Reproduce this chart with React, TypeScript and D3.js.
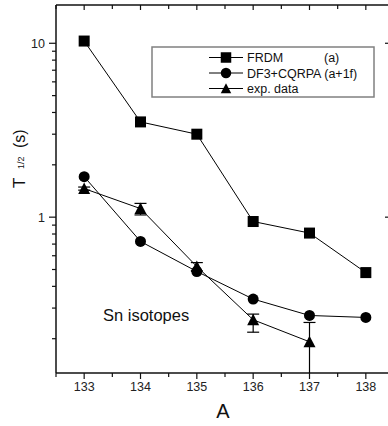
import React from 'react';
import * as d3 from 'd3';

// mass numbers of the Sn isotopes
const massNumbers = [133, 134, 135, 136, 137, 138];
// half-lives (s)
const frdm = [10.3, 3.53, 3.0, 0.944, 0.81, 0.48];
const df3 = [1.71, 0.725, 0.487, 0.338, 0.272, 0.265];
const expMass = [133, 134, 135, 136, 137];
const expData = [1.46, 1.12, 0.52, 0.257, 0.192];
const expErrUp = [0.03, 0.08, 0.028, 0.02, 0.056];
const expErrDown = [0.03, 0.09, 0.028, 0.039, 0.08];

const xMajor = [133, 134, 135, 136, 137, 138];
const xMinor = [132.5, 133.5, 134.5, 135.5, 136.5, 137.5];
const yMajor = [1, 10];
const yMajorLabels = ['1', '10'];
const yMinor = [0.2, 0.3, 0.4, 0.5, 0.6, 0.7, 0.8, 0.9, 2, 3, 4, 5, 6, 7, 8, 9];
const legendLabels = ['FRDM', 'DF3+CQRPA (a+1f)', 'exp. data'];

const W = 388;
const H = 426;
const left = 56, right = 392, top = 5, bottom = 373;
const font = 'Liberation Sans, Arial, sans-serif';

const x = d3.scaleLinear().domain([132.5, 138.5]).range([left, 394]);
const y = d3.scaleLog().domain([0.127, 16.6]).range([bottom, top]);

const Square = ({cx, cy, s = 11}: any) => (
  <rect x={cx - s / 2} y={cy - s / 2} width={s} height={s} fill="#000" />
);
const Circle = ({cx, cy, s = 11}: any) => <circle cx={cx} cy={cy} r={s / 2} fill="#000" />;
const Tri = ({cx, cy, s = 12}: any) => (
  <path d={`M${cx},${cy - s / 2}L${cx + s / 2},${cy + s / 2 - 0.5}L${cx - s / 2},${cy + s / 2 - 0.5}Z`} fill="#000" />
);

export default function App() {
  const line = d3.line<[number, number]>().x(d => x(d[0])).y(d => y(d[1]));
  const frdmPts = massNumbers.map((m, i) => [m, frdm[i]] as [number, number]);
  const df3Pts = massNumbers.map((m, i) => [m, df3[i]] as [number, number]);
  const expPts = expMass.map((m, i) => [m, expData[i]] as [number, number]);
  const legendMarkers = [Square, Circle, Tri];

  return (
    <svg width={W} height={H} style={{position: 'absolute', left: 0, top: 0, background: '#fff'}}
      fontFamily={font}>
      <rect width={W} height={H} fill="#fff" />
      <defs>
        <clipPath id="plotClip">
          <rect x={left} y={top} width={right - left} height={bottom - top} />
        </clipPath>
      </defs>
      {/* axes frame */}
      <g stroke="#111" strokeWidth={1.5} fill="none">
        <line x1={left} x2={left} y1={top} y2={bottom} />
        <line x1={left} x2={right} y1={bottom} y2={bottom} />
        <line x1={left} x2={right} y1={top} y2={top} />
        <line x1={right} x2={right} y1={top} y2={bottom} />
      </g>
      <g stroke="#111" strokeWidth={1.2}>
        {xMajor.map(v => (
          <g key={'xM' + v}>
            <line x1={x(v)} x2={x(v)} y1={bottom} y2={bottom + 6} />
            <line x1={x(v)} x2={x(v)} y1={top} y2={top + 5} />
          </g>
        ))}
        {xMinor.map(v => (
          <g key={'xm' + v}>
            <line x1={x(v)} x2={x(v)} y1={bottom} y2={bottom + 4} />
            <line x1={x(v)} x2={x(v)} y1={top} y2={top + 4} />
          </g>
        ))}
        {yMajor.map(v => (
          <g key={'yM' + v}>
            <line x1={left - 7} x2={left} y1={y(v)} y2={y(v)} />
            <line x1={right - 7} x2={right} y1={y(v)} y2={y(v)} />
          </g>
        ))}
        {yMinor.map(v => (
          <line key={'ym' + v} x1={left - 4} x2={left} y1={y(v)} y2={y(v)} />
        ))}
      </g>
      <g fontSize={12.5} fill="#222">
        {xMajor.map(v => (
          <text key={'xl' + v} x={x(v)} y={bottom + 18} textAnchor="middle">{v}</text>
        ))}
        {yMajor.map((v, i) => (
          <text key={'yl' + v} x={left - 11} y={y(v) + 4.5} textAnchor="end">{yMajorLabels[i]}</text>
        ))}
      </g>
      <text x={223} y={418} fontSize={20} textAnchor="middle" fill="#111">A</text>
      <g transform="translate(25,188) rotate(-90)" fill="#111">
        <text x={0} y={0} fontSize={17}>T</text>
        <text x={19} y={-1} fontSize={9}>1/2</text>
        <text x={40} y={0} fontSize={16}>(s)</text>
      </g>

      {/* series */}
      <g fill="none" stroke="#000" strokeWidth={1}>
        <path d={line(frdmPts) || ''} />
        <path d={line(df3Pts) || ''} />
        <path d={line(expPts) || ''} />
      </g>
      <g stroke="#000" strokeWidth={1.2} clipPath="url(#plotClip)">
        {expMass.map((m, i) => {
          const cx = x(m);
          const hi = y(expData[i] + expErrUp[i]);
          const lo = y(expData[i] - expErrDown[i]);
          return (
            <g key={'e' + m}>
              <line x1={cx} x2={cx} y1={hi} y2={lo} />
              <line x1={cx - 6} x2={cx + 6} y1={hi} y2={hi} />
              <line x1={cx - 6} x2={cx + 6} y1={lo} y2={lo} />
            </g>
          );
        })}
      </g>
      {frdmPts.map(d => <Square key={'s' + d[0]} cx={x(d[0])} cy={y(d[1])} />)}
      {df3Pts.map(d => <Circle key={'c' + d[0]} cx={x(d[0])} cy={y(d[1])} />)}
      {expPts.map(d => <Tri key={'t' + d[0]} cx={x(d[0])} cy={y(d[1])} />)}

      <text x={103} y={320.5} fontSize={16.5} fill="#111">Sn isotopes</text>

      {/* legend */}
      <rect x={152} y={47} width={222} height={50} fill="#fff" stroke="#808080" strokeWidth={1.5} />
      {legendLabels.map((lab, i) => {
        const ry = 57.5 + i * 15.5;
        const M = legendMarkers[i];
        return (
          <g key={lab}>
            <line x1={209} x2={243} y1={ry} y2={ry} stroke="#000" strokeWidth={1} />
            <M cx={226} cy={ry} s={10.5} />
            <text x={247} y={ry + 4.5} fontSize={12.5} fill="#111">{lab}</text>
          </g>
        );
      })}
      <text x={324} y={57.5 + 4.5} fontSize={12.5} fill="#111">(a)</text>
    </svg>
  );
}
